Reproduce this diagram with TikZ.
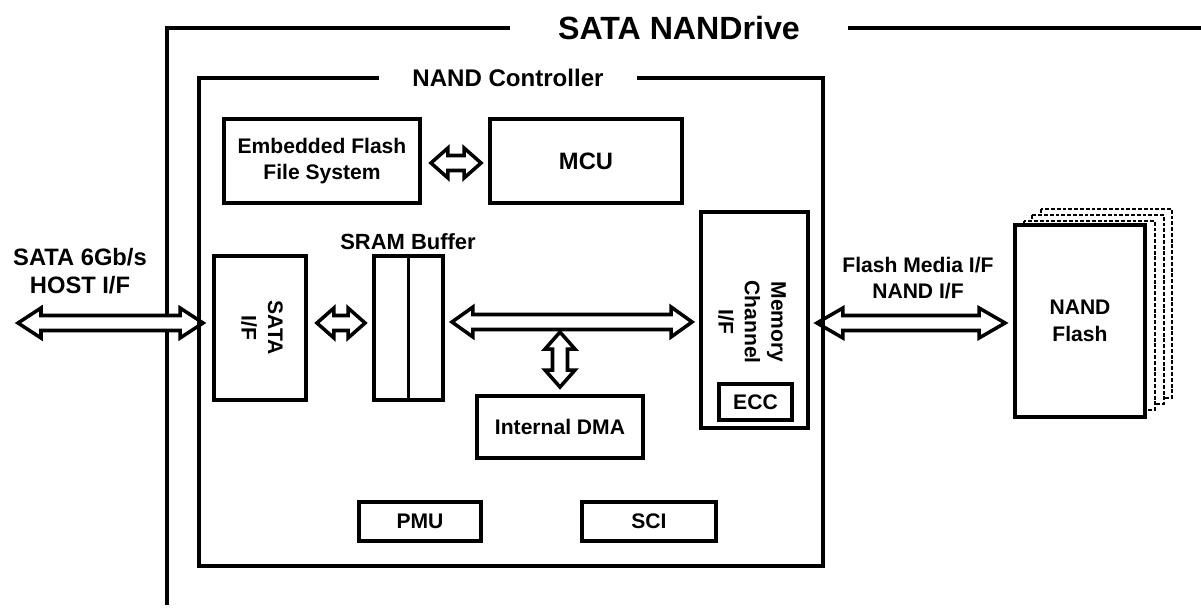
\documentclass[tikz,border=0pt]{standalone}
\usepackage{fontspec}
\setmainfont{Liberation Sans}
\usetikzlibrary{calc}
\newcommand{\fsz}[2]{\fontsize{#1}{#2}\selectfont\bfseries}
\tikzset{
  box/.style={draw, line width=2.2pt, fill=white, inner sep=0pt, align=center, font=\fsz{12}{15}},
  sz/.style 2 args={minimum width=#1*0.02cm, minimum height=#2*0.02cm},
  lbl/.style={inner sep=0pt, align=center, font=\fsz{12}{15}},
  ttl/.style={inner ysep=0pt, align=center},
  frame/.style={line width=2.2pt},
  arr/.style={draw, line width=2pt, fill=white},
  dashbox/.style={draw, line width=1.5pt, fill=white, dash pattern=on 2.2pt off 1.1pt},
}
\newcommand{\harr}[3][20]{%
  \draw[arr] (#2) -- ++(#1,-15) -- ++(0,7.5) -- ($(#3)+(-#1,-7.5)$) -- ++(0,-7.5) -- (#3)
    -- ++(-#1,15) -- ++(0,-7.5) -- ($(#2)+(#1,7.5)$) -- ++(0,7.5) -- cycle;}
\newcommand{\varr}[3][18]{%
  \draw[arr] (#2) -- ++(-15,#1) -- ++(7.5,0) -- ($(#3)+(-7.5,-#1)$) -- ++(-7.5,0) -- (#3)
    -- ++(15,-#1) -- ++(-7.5,0) -- ($(#2)+(7.5,#1)$) -- ++(7.5,0) -- cycle;}
\begin{document}
\begin{tikzpicture}[x=0.02cm, y=-0.02cm]
\useasboundingbox (0,0) rectangle (1201,614);

% outer frame
\node[ttl, font=\fsz{18.3}{22}, inner xsep=0.96cm] (drive) at (679,28) {SATA NANDrive};
\draw[frame] (drive.west) -| (167,605);
\draw[frame] (drive.east) -- (1210,28);

% boxes
\node[box, sz={196}{84}] (effs) at (322,161) {Embedded Flash\\File System};
\node[box, sz={192}{84}, font=\fsz{13.5}{16}] (mcu) at (586,161) {MCU};
\node[box, sz={92}{144}] (sataif) at (260,328) {};
\node[lbl, rotate=-90] (sataiftxt) at (262,328) {SATA\\I/F};
\node[box, sz={69}{144}] (sram) at (408.5,328) {};
\draw[frame] (sram.north) -- (sram.south);
\node[lbl, font=\fsz{12.5}{15}] (sramlbl) at (408,242) {SRAM Buffer};
\node[box, sz={166}{62}] (dma) at (560,427) {Internal DMA};
\node[box, sz={107}{216}] (memch) at (754.5,320) {};
\node[lbl, rotate=-90] (memtxt) at (752,322) {Memory\\Channel\\I/F};
\node[box, sz={73}{36}] (ecc) at (755.5,402) {ECC};
\node[box, sz={122}{39}] (pmu) at (420,521.5) {PMU};
\node[box, sz={134}{39}] (sci) at (649,521.5) {SCI};

% NAND flash stack
\draw[dashbox] (1041,209) rectangle (1172,398);
\draw[dashbox] (1032,215) rectangle (1164,404);
\draw[dashbox] (1024,221) rectangle (1155,410);
\node[box, sz={130}{192}] (nand) at (1080,321) {NAND\\Flash};

% labels
\node[lbl, font=\fsz{13.5}{16}] (hostlbl) at (80,271) {SATA 6Gb/s\\HOST I/F};
\node[lbl] (flashlbl) at (918,278) {Flash Media I/F\\NAND I/F};

% arrows
\coordinate (hostL) at (18,323);
\coordinate (hostR) at ($(sataif.west)+(-9,-5)$);
\harr[23]{hostL}{hostR}
\coordinate (e1) at ($(effs.east)+(9,2)$);
\coordinate (e2) at ($(mcu.west)+(-7,2)$);
\harr[17]{e1}{e2}
\coordinate (s1) at ($(sataif.east)+(9,-5)$);
\coordinate (s2) at ($(sram.west)+(-7,-5)$);
\harr[17]{s1}{s2}
\coordinate (b1) at ($(sram.east)+(7,-6)$);
\coordinate (b2) at ($(memch.west)+(-7,2)$);
\harr[21]{b1}{b2}
\coordinate (d1) at ($(dma.north)+(0,-62)$);
\coordinate (d2) at ($(dma.north)+(0,-7)$);
\varr[17]{d1}{d2}
\coordinate (f1) at ($(memch.east)+(7,3)$);
\coordinate (f2) at ($(nand.west)+(-8,2)$);
\harr[26]{f1}{f2}

% controller frame
\node[ttl, font=\fsz{13.7}{16}, inner xsep=0.66cm] (ctrl) at (508,78) {NAND Controller};
\draw[frame] (ctrl.west) -| (199,566) -| (823,78) -- (ctrl.east);
\end{tikzpicture}
\end{document}
